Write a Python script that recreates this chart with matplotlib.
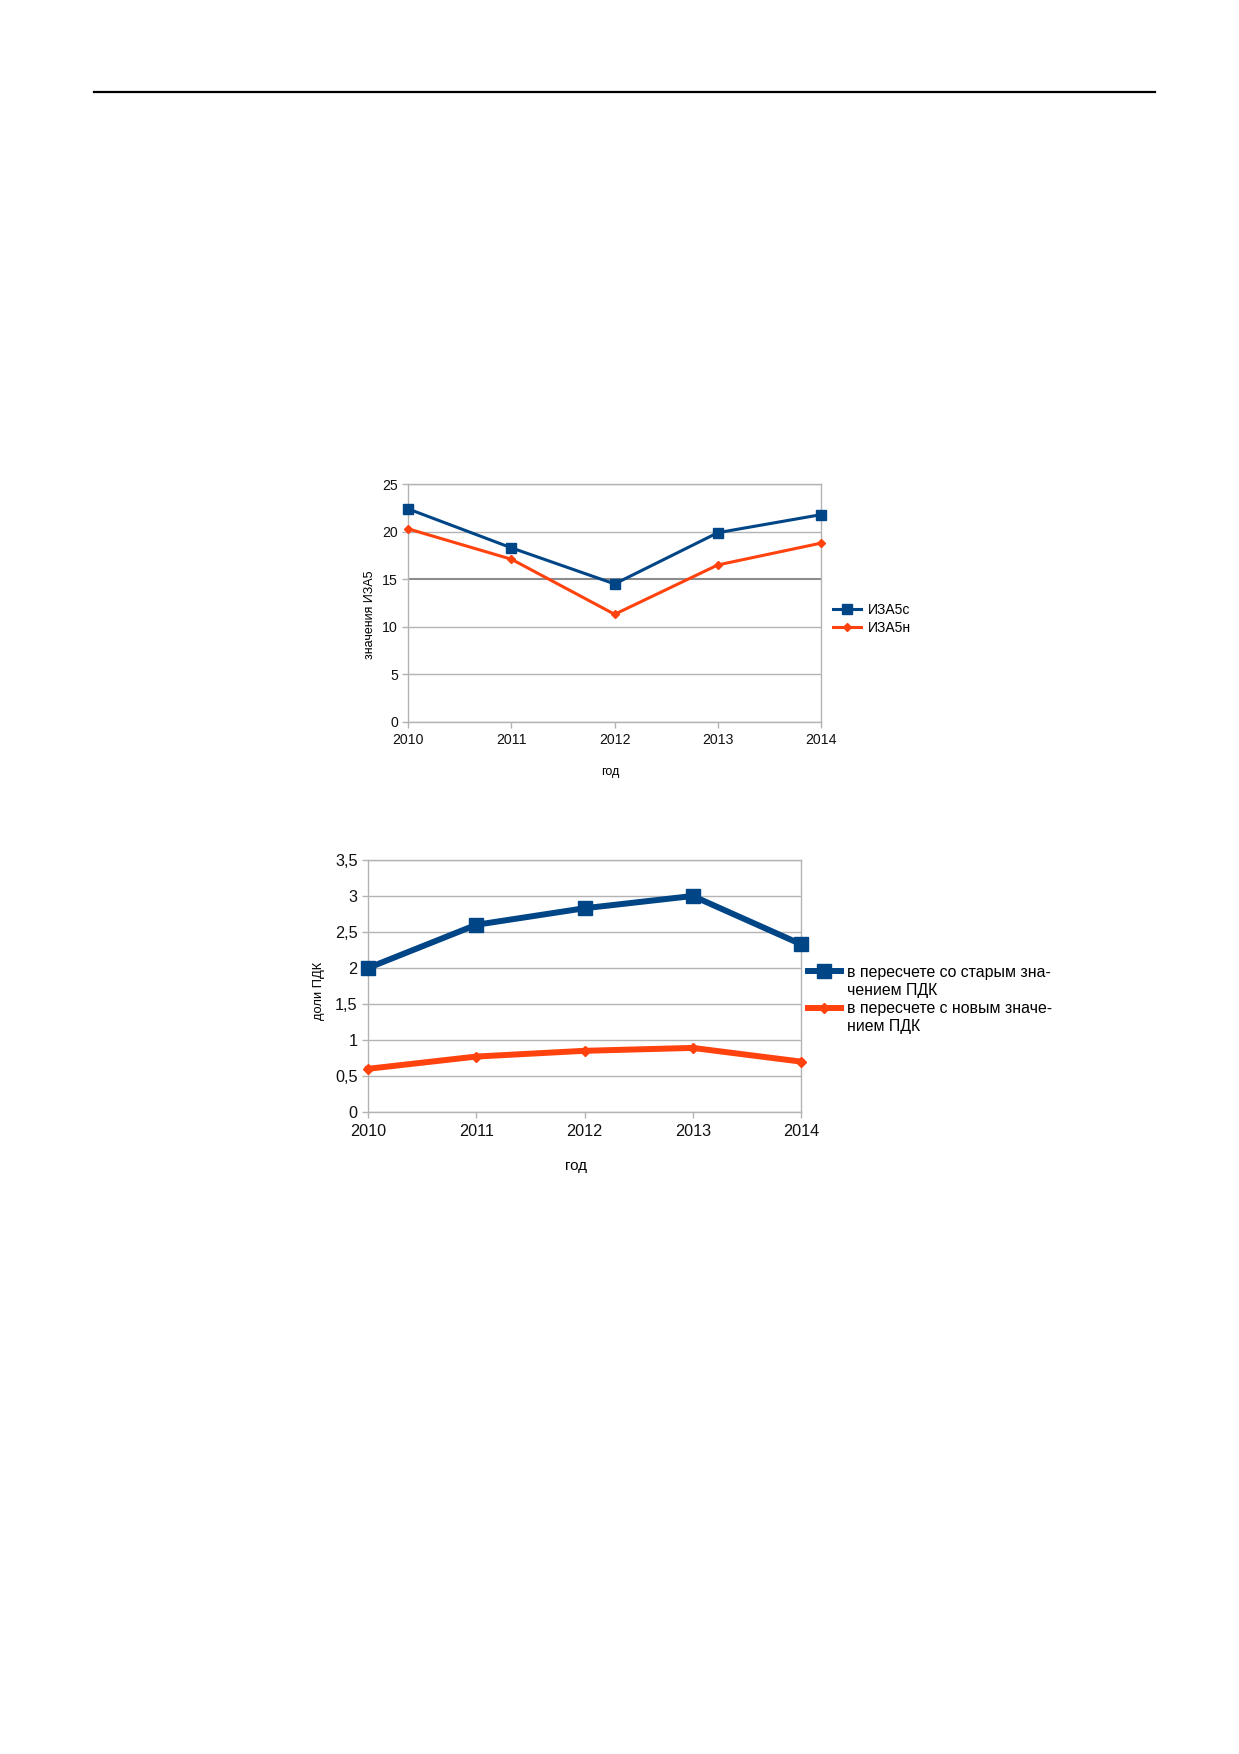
import matplotlib
matplotlib.use("Agg")
import matplotlib.pyplot as plt
from matplotlib.lines import Line2D

plt.rcParams['font.family'] = ['Liberation Sans', 'DejaVu Sans']

# данные
years = ['2010', '2011', '2012', '2013', '2014']
iza5_c = [22.4, 18.3, 14.5, 19.9, 21.8]
iza5_n = [20.3, 17.1, 11.3, 16.5, 18.8]
pdk_old = [2.0, 2.6, 2.83, 3.0, 2.33]
pdk_new = [0.6, 0.77, 0.85, 0.89, 0.70]

y1_ticks = [0, 5, 10, 15, 20, 25]
y2_ticks = [0, 0.5, 1, 1.5, 2, 2.5, 3, 3.5]
y2_labels = ['0', '0,5', '1', '1,5', '2', '2,5', '3', '3,5']

BLUE = '#004586'
ORANGE = '#ff420e'
GRID = '#b3b3b3'

W, H = 1239, 1754
fig = plt.figure(figsize=(W / 100, H / 100), dpi=100)

# линия колонтитула
fig.add_artist(Line2D([94 / W, 1155 / W], [1 - 92 / H, 1 - 92 / H],
                      color='black', lw=1.6, transform=fig.transFigure))


def style_axes(ax, ticksize):
    for s in ax.spines.values():
        s.set_color(GRID)
        s.set_linewidth(1)
    ax.grid(axis='y', color=GRID, lw=1)
    ax.set_axisbelow(True)
    ax.tick_params(axis='both', colors=GRID, labelcolor='#111111',
                   labelsize=ticksize, length=4.5, width=1)
    ax.tick_params(axis='y', pad=3)
    ax.tick_params(axis='x', pad=4)


x = range(len(years))

# --- график 1: ИЗА5 ---
ax1 = fig.add_axes([408.3 / W, 1 - 721.5 / H, 412.7 / W, 237.2 / H])
ax1.plot(x, iza5_c, color=BLUE, lw=2.2, marker='s', ms=7.5, label='ИЗА5с',
         clip_on=False, zorder=3)
ax1.plot(x, iza5_n, color=ORANGE, lw=2.2, marker='D', ms=4.5, label='ИЗА5н',
         clip_on=False, zorder=3)
ax1.set_xlim(0, 4)
ax1.set_ylim(0, 25)
ax1.set_xticks(list(x))
ax1.set_xticklabels(years)
ax1.set_yticks(y1_ticks)
style_axes(ax1, 10.2)
ax1.get_ygridlines()[3].set_color('#8c8c8c')
ax1.get_ygridlines()[3].set_linewidth(1.5)
ax1.set_ylabel('значения ИЗА5', fontsize=9)
ax1.yaxis.set_label_coords(-0.078, 0.449)
ax1.set_xlabel('год', fontsize=9)
ax1.xaxis.set_label_coords(0.49, -0.188)
ax1.legend(loc='center left', bbox_to_anchor=(833 / W, 1 - 618.6 / H),
           bbox_transform=fig.transFigure, frameon=False, fontsize=10,
           borderpad=0, borderaxespad=0, handlelength=2.0, handletextpad=0.5,
           labelspacing=0.3)

# --- график 2: доли ПДК ---
ax2 = fig.add_axes([368 / W, 1 - 1112 / H, 433 / W, 252 / H])
ax2.plot(x, pdk_old, color=BLUE, lw=4.3, marker='s', ms=9.5, clip_on=False, zorder=3)
ax2.plot(x, pdk_new, color=ORANGE, lw=4.3, marker='D', ms=5, clip_on=False, zorder=3)
ax2.set_xlim(0, 4)
ax2.set_ylim(0, 3.5)
ax2.set_xticks(list(x))
ax2.set_xticklabels(years)
ax2.set_yticks(y2_ticks)
ax2.set_yticklabels(y2_labels)
style_axes(ax2, 11.7)
ax2.set_ylabel('доли ПДК', fontsize=9.3)
ax2.yaxis.set_label_coords(-0.10, 0.48)
ax2.set_xlabel('год', fontsize=10.9)
ax2.xaxis.set_label_coords(0.48, -0.186)

blank = Line2D([], [], color='none')
h_old = Line2D([], [], color=BLUE, lw=4.3, marker='s', ms=9.5)
h_new = Line2D([], [], color=ORANGE, lw=4.3, marker='D', ms=5)
ax2.legend([h_old, blank, h_new, blank],
           ['в пересчете со старым зна-', 'чением ПДК',
            'в пересчете с новым значе-', 'нием ПДК'],
           loc='upper left', bbox_to_anchor=(807.6 / W, 1 - 964.5 / H),
           bbox_transform=fig.transFigure, frameon=False, fontsize=11.4,
           borderpad=0, borderaxespad=0, handlelength=2.1, handletextpad=0.37,
           labelspacing=0.21)

fig.savefig('out.png', dpi=100)
